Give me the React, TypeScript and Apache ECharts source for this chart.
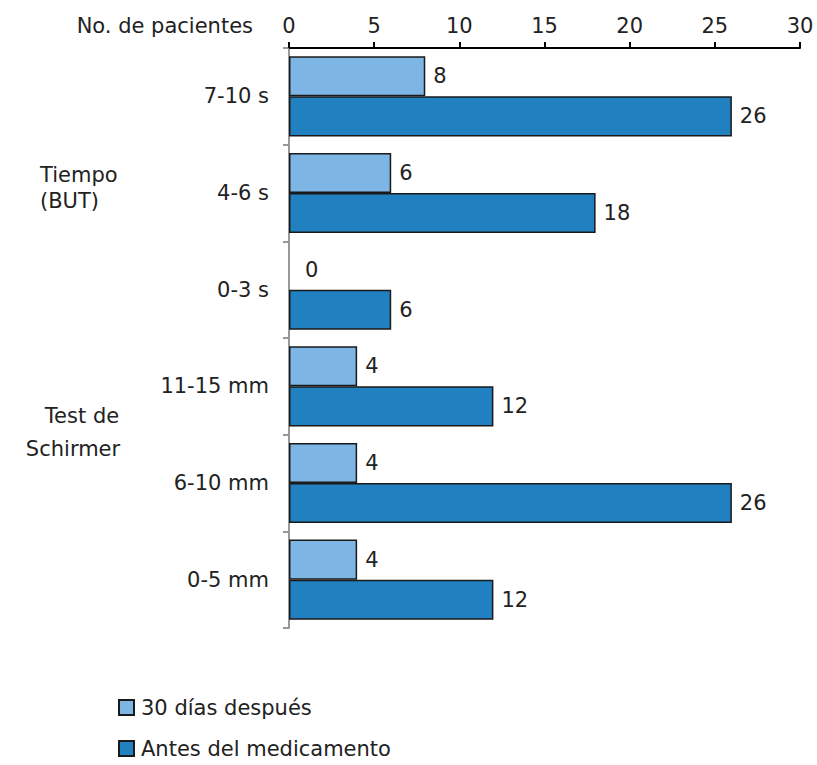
import React, { useEffect, useRef } from "react";
import * as echarts from "echarts";

const categories = ["7-10 s", "4-6 s", "0-3 s", "11-15 mm", "6-10 mm", "0-5 mm"];
const despues = [8, 6, 0, 4, 4, 4];
const antes = [26, 18, 6, 12, 26, 12];
const xTicks = { min: 0, max: 30, interval: 5 };
const seriesNames = ["30 días después", "Antes del medicamento"];
const groupTiempo = ["Tiempo", "(BUT)"];
const groupSchirmer = ["Test de", "Schirmer"];
const axisTitle = "No. de pacientes";

const FONT = "DejaVu Sans, Verdana, sans-serif";
const TXT = "#222222";

export default function App() {
  const ref = useRef<HTMLDivElement>(null);
  useEffect(() => {
    if (!ref.current) return;
    const chart = echarts.init(ref.current, null, { renderer: "svg" });
    const label = {
      show: true,
      position: "right",
      distance: 8,
      color: TXT,
      fontSize: 21,
      fontFamily: FONT,
    };
    const withZero = (arr: number[]) =>
      arr.map((v) =>
        v === 0 ? { value: v, label: { distance: 16 }, itemStyle: { borderWidth: 0 } } : v
      );
    const txt = (text: string, x: number, y: number, align: string) => ({
      type: "text",
      x,
      y,
      style: {
        text,
        fill: TXT,
        font: `21px ${FONT}`,
        textAlign: align,
        textVerticalAlign: "middle",
      },
    });
    chart.setOption({
      animation: false,
      textStyle: { fontFamily: FONT },
      grid: { left: 289, right: 17, top: 48, bottom: 137, containLabel: false },
      xAxis: {
        type: "value",
        position: "top",
        min: xTicks.min,
        max: xTicks.max,
        interval: xTicks.interval,
        axisLine: { show: true, lineStyle: { color: "#000", width: 2 } },
        axisTick: { show: true, length: 6, lineStyle: { color: "#000", width: 2 } },
        axisLabel: { color: TXT, fontSize: 21, fontFamily: FONT, margin: 12 },
        splitLine: { show: false },
      },
      yAxis: {
        type: "category",
        data: categories,
        inverse: true,
        axisLine: { show: true, lineStyle: { color: "#999", width: 2 } },
        axisTick: { show: true, length: 6, lineStyle: { color: "#999", width: 2 } },
        axisLabel: { color: TXT, fontSize: 21, fontFamily: FONT, margin: 20 },
      },
      legend: {
        orient: "vertical",
        left: 113,
        top: 692,
        itemWidth: 15,
        itemHeight: 15,
        itemGap: 20,
        icon: "rect",
        data: seriesNames,
        textStyle: { color: TXT, fontSize: 21, fontFamily: FONT, padding: [0, 0, 0, 2] },
      },
      series: [
        {
          name: seriesNames[0],
          type: "bar",
          data: withZero(despues),
          barGap: "0%",
          barCategoryGap: "17%",
          itemStyle: { color: "#7db5e4", borderColor: "#1a1a1a", borderWidth: 1.5 },
          label,
        },
        {
          name: seriesNames[1],
          type: "bar",
          data: withZero(antes),
          barGap: "0%",
          barCategoryGap: "17%",
          itemStyle: { color: "#2180c0", borderColor: "#1a1a1a", borderWidth: 1.5 },
          label,
        },
      ],
      graphic: [
        txt(axisTitle, 253, 26, "right"),
        txt(groupTiempo[0], 40, 175, "left"),
        txt(groupTiempo[1], 40, 201, "left"),
        txt(groupSchirmer[0], 82, 416, "center"),
        txt(groupSchirmer[1], 73, 449, "center"),
      ],
    });
    return () => chart.dispose();
  }, []);
  return (
    <div
      ref={ref}
      style={{ position: "absolute", left: 0, top: 0, width: 817, height: 765 }}
    />
  );
}
